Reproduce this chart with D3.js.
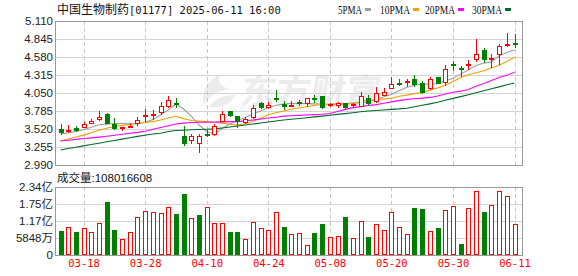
<!DOCTYPE html>
<html>
<head>
<meta charset="utf-8">
<script src="https://cdn.jsdelivr.net/npm/d3@7"></script>
<style>
body { margin: 0; background: #fff; }
svg { display: block; }
</style>
</head>
<body>
<svg id="kline" width="578" height="276"></svg>
<script>
var title = "中国生物制药[01177] 2025-06-11 16:00";
var lastVolume = 108016608;

var dates = ["03-13","03-14","03-17","03-18","03-19","03-20","03-21","03-24","03-25","03-26",
  "03-27","03-28","03-31","04-01","04-02","04-03","04-07","04-08","04-09","04-10",
  "04-11","04-14","04-15","04-16","04-17","04-22","04-23","04-24","04-25","04-28",
  "04-29","04-30","05-02","05-06","05-07","05-08","05-09","05-12","05-13","05-14",
  "05-15","05-16","05-19","05-20","05-21","05-22","05-23","05-26","05-27","05-28",
  "05-29","05-30","06-02","06-03","06-04","06-05","06-06","06-09","06-10","06-11"];

var open = [3.52,3.50,3.53,3.55,3.61,3.66,3.74,3.59,3.53,3.56,
  3.61,3.71,3.72,3.77,3.86,3.90,3.41,3.36,3.31,3.45,
  3.45,3.64,3.79,3.71,3.62,3.69,3.91,3.84,3.98,3.89,
  3.87,3.92,3.91,3.98,4.01,3.88,3.88,3.90,3.88,3.86,
  3.98,3.93,4.02,4.12,4.20,4.21,4.26,4.19,4.12,4.28,
  4.21,4.48,4.42,4.46,4.55,4.68,4.55,4.62,4.76,4.79];
var high = [3.59,3.58,3.57,3.63,3.67,3.78,3.75,3.68,3.55,3.60,
  3.70,3.81,3.80,3.92,4.01,3.98,3.56,3.45,3.44,3.51,
  3.59,3.78,3.79,3.71,3.69,3.87,3.92,3.92,4.09,3.93,
  3.93,3.95,3.97,4.02,4.01,3.91,3.92,3.90,3.91,4.06,
  4.02,4.14,4.12,4.29,4.26,4.26,4.32,4.22,4.29,4.29,
  4.46,4.52,4.45,4.54,4.85,4.71,4.62,4.77,4.94,4.92];
var low = [3.43,3.46,3.48,3.53,3.59,3.64,3.60,3.51,3.49,3.54,
  3.56,3.63,3.65,3.73,3.83,3.83,3.27,3.30,3.17,3.40,
  3.41,3.63,3.69,3.53,3.59,3.67,3.81,3.81,3.92,3.80,
  3.84,3.86,3.85,3.91,3.81,3.84,3.83,3.81,3.85,3.85,
  3.88,3.91,4.00,4.11,4.16,4.14,4.14,4.04,4.09,4.19,
  4.16,4.37,4.29,4.39,4.51,4.49,4.42,4.46,4.72,4.71];
var close = [3.47,3.51,3.50,3.60,3.64,3.70,3.61,3.54,3.55,3.57,
  3.65,3.73,3.74,3.86,3.95,3.89,3.32,3.42,3.41,3.44,
  3.57,3.74,3.72,3.64,3.67,3.83,3.84,3.88,3.96,3.86,
  3.88,3.91,3.97,3.96,3.85,3.89,3.90,3.85,3.89,4.01,
  3.91,4.05,4.06,4.18,4.19,4.22,4.18,4.07,4.25,4.20,
  4.41,4.47,4.41,4.47,4.62,4.55,4.56,4.74,4.77,4.78];

// volume in 万 shares
var volume = [8260,9630,7910,9170,7910,10890,18230,8600,5500,7800,
  12960,15020,14680,14330,16400,14100,20980,12730,13760,16400,
  10890,10890,7910,7910,5500,11240,9170,8490,14680,9630,
  7110,7450,3440,7570,10660,6190,6540,13070,5850,11580,
  6190,10550,8600,14700,9630,7110,16170,15930,8140,9290,
  15360,16740,3780,16050,21910,14790,17090,21910,20180,10801.66];

var ma5 = [3.446,3.463,3.483,3.508,3.545,3.582,3.592,3.600,3.602,3.598,
  3.594,3.623,3.658,3.726,3.800,3.888,3.814,3.711,3.579,3.483,
  3.446,3.527,3.594,3.644,3.689,3.741,3.785,3.838,3.869,3.887,
  3.898,3.896,3.893,3.890,3.887,3.884,3.890,3.896,3.901,3.907,
  3.919,3.954,3.991,4.029,4.082,4.135,4.165,4.181,4.183,4.186,
  4.227,4.267,4.328,4.390,4.455,4.489,4.508,4.595,4.645,4.683];
var ma10 = [3.343,3.373,3.402,3.430,3.466,3.501,3.532,3.558,3.573,3.588,
  3.604,3.616,3.628,3.653,3.682,3.707,3.673,3.644,3.636,3.629,
  3.620,3.607,3.592,3.580,3.598,3.629,3.679,3.729,3.760,3.785,
  3.812,3.829,3.847,3.865,3.881,3.884,3.884,3.884,3.900,3.921,
  3.943,3.951,3.962,3.974,4.003,4.019,4.041,4.056,4.090,4.125,
  4.160,4.219,4.277,4.320,4.349,4.377,4.417,4.458,4.514,4.576];
var ma20 = [3.343,3.355,3.367,3.379,3.389,3.401,3.414,3.429,3.442,3.457,
  3.470,3.488,3.516,3.542,3.567,3.594,3.606,3.616,3.619,3.620,
  3.623,3.625,3.628,3.629,3.639,3.653,3.667,3.681,3.694,3.709,
  3.716,3.720,3.726,3.731,3.737,3.748,3.779,3.809,3.835,3.850,
  3.865,3.879,3.898,3.919,3.938,3.956,3.965,3.975,3.985,4.007,
  4.034,4.060,4.077,4.102,4.150,4.190,4.234,4.277,4.312,4.355];
var ma30 = [3.211,3.232,3.252,3.271,3.292,3.311,3.332,3.351,3.371,3.391,
  3.411,3.429,3.446,3.458,3.483,3.498,3.502,3.508,3.513,3.517,
  3.522,3.535,3.550,3.564,3.579,3.594,3.608,3.623,3.638,3.653,
  3.664,3.675,3.686,3.698,3.710,3.723,3.735,3.747,3.760,3.773,
  3.785,3.792,3.800,3.809,3.816,3.826,3.847,3.869,3.890,3.915,
  3.943,3.971,3.997,4.025,4.055,4.082,4.112,4.140,4.171,4.197];

var maNames = ["5PMA", "10PMA", "20PMA", "30PMA"];
var maColors = ["#a0a0a0", "#f0a000", "#ff00ff", "#006a2c"];

var priceTicks = [2.990, 3.255, 3.520, 3.785, 4.050, 4.315, 4.580, 4.845, 5.110];
var volTicks = [0, 5848, 11696, 17544, 23392];
var volTickLabels = ["0", "5848万", "1.17亿", "1.75亿", "2.34亿"];
var dateTicks = ["03-18", "03-28", "04-10", "04-24", "05-08", "05-20", "05-30", "06-11"];

function kline(){
  var svg = d3.select("#kline");
  var red = "#ff0000", green = "#007f00";
  var left = 55, right = 522;
  var pTop = 21, pBot = 165, vTop = 187, vBot = 255;

  var x = d3.scalePoint().domain(dates).range([60.5, 514.5]);
  var y = d3.scaleLinear().domain([2.990, 5.110]).range([pBot, pTop]);
  var vy = d3.scaleLinear().domain([0, 23392]).range([vBot, vTop]);
  function px(d){ return Math.round(x(d)); }

  // watermark
  var wm = svg.append("g").attr("fill", "#ececec");
  wm.append("path")
    .attr("transform", "translate(201,74)")
    .attr("d", "M20,0 C6,6 0,18 3,31 C8,22 16,17 29,15 C20,13 15,8 20,0 Z M8,33 C14,24 24,21 34,21 C30,30 20,35 8,33 Z");
  wm.append("text")
    .attr("x", 240).attr("y", 104)
    .attr("transform", "skewX(-8) translate(14,0)")
    .attr("font-family", "Noto Sans CJK SC")
    .attr("font-weight", "bold")
    .attr("font-size", 35)
    .text("东方财富");

  // grid
  var grid = svg.append("g").attr("shape-rendering", "crispEdges");
  grid.selectAll(".hp").data(priceTicks).enter().append("line")
    .attr("x1", left).attr("x2", right)
    .attr("y1", function(d){ return Math.round(y(d)) + 0.5; })
    .attr("y2", function(d){ return Math.round(y(d)) + 0.5; })
    .attr("stroke", "#d4d4d4");
  grid.selectAll(".hv").data(volTicks).enter().append("line")
    .attr("x1", left).attr("x2", right)
    .attr("y1", function(d){ return Math.round(vy(d)) + 0.5; })
    .attr("y2", function(d){ return Math.round(vy(d)) + 0.5; })
    .attr("stroke", "#d4d4d4");
  [[pTop, pBot], [vTop, vBot]].forEach(function(r){
    grid.selectAll(null).data(dateTicks).enter().append("line")
      .attr("x1", function(d){ return px(d) + 0.5; })
      .attr("x2", function(d){ return px(d) + 0.5; })
      .attr("y1", r[0]).attr("y2", r[1])
      .attr("stroke", "#c8c8c8")
      .attr("stroke-dasharray", "4,3");
  });

  // frames
  svg.append("path")
    .attr("shape-rendering", "crispEdges")
    .attr("fill", "none").attr("stroke", "#999")
    .attr("d", "M" + (left + .5) + "," + (pTop + .5) + "H" + (right + .5) + "V" + (pBot + .5) + "H" + (left + .5) + "Z"
      + "M" + (left + .5) + "," + (vTop + .5) + "H" + (right + .5) + "V" + (vBot + .5) + "H" + (left + .5) + "Z");

  // moving averages
  var line = d3.line()
    .x(function(d, i){ return x(dates[i]); })
    .y(function(d){ return y(d); });
  svg.append("g").selectAll("path")
    .data([ma5, ma10, ma20, ma30])
    .enter().append("path")
      .attr("fill", "none")
      .attr("stroke", function(d, i){ return maColors[i]; })
      .attr("stroke-width", 1.1)
      .attr("d", line);

  // candles
  var candles = svg.append("g").attr("shape-rendering", "crispEdges")
    .selectAll("g").data(dates).enter().append("g");
  candles.each(function(d, i){
    var g = d3.select(this);
    var cx = px(d);
    var up = close[i] >= open[i];
    var col = up ? red : green;
    var t = Math.round(y(Math.max(open[i], close[i])));
    var b = Math.round(y(Math.min(open[i], close[i])));
    var hi = Math.round(y(high[i])), lo = Math.round(y(low[i]));
    if (b - t < 2) {
      g.append("line").attr("x1", cx + .5).attr("x2", cx + .5).attr("y1", hi).attr("y2", lo).attr("stroke", col);
      g.append("rect").attr("x", cx - 2).attr("y", t).attr("width", 5).attr("height", 2).attr("fill", col);
    } else if (up) {
      g.append("line").attr("x1", cx + .5).attr("x2", cx + .5).attr("y1", hi).attr("y2", t).attr("stroke", col);
      g.append("line").attr("x1", cx + .5).attr("x2", cx + .5).attr("y1", b).attr("y2", lo).attr("stroke", col);
      g.append("rect").attr("x", cx - 1.5).attr("y", t + .5).attr("width", 4).attr("height", b - t)
        .attr("fill", "#fff").attr("stroke", col);
    } else {
      g.append("line").attr("x1", cx + .5).attr("x2", cx + .5).attr("y1", hi).attr("y2", lo).attr("stroke", col);
      g.append("rect").attr("x", cx - 2).attr("y", t).attr("width", 5).attr("height", b - t + 1).attr("fill", col);
    }
  });

  // volume bars
  svg.append("g").attr("shape-rendering", "crispEdges")
    .selectAll("rect").data(volume).enter().append("rect")
      .each(function(v, i){
        var up = i === 0 ? close[i] >= open[i] : close[i] >= close[i - 1];
        var cx = px(dates[i]);
        var top = Math.round(vy(v));
        var r = d3.select(this);
        if (up) {
          r.attr("x", cx - 1.5).attr("y", top + .5).attr("width", 4).attr("height", vBot - top - 1)
            .attr("fill", "#fff").attr("stroke", red);
        } else {
          r.attr("x", cx - 2).attr("y", top).attr("width", 5).attr("height", vBot - top).attr("fill", green);
        }
      });

  // axes
  var axisFont = "'Liberation Sans', 'Noto Sans CJK SC', sans-serif";
  var ya = svg.append("g")
    .attr("transform", "translate(53,0)")
    .call(d3.axisLeft(y).tickValues(priceTicks).tickFormat(d3.format(".3f")).tickSize(0).tickPadding(0));
  var va = svg.append("g")
    .attr("transform", "translate(53,0)")
    .call(d3.axisLeft(vy).tickValues(volTicks).tickFormat(function(d, i){ return volTickLabels[i]; }).tickSize(0).tickPadding(0));
  [ya, va].forEach(function(a){
    a.select(".domain").remove();
    a.selectAll("text").attr("font-family", axisFont).attr("font-size", 11.5).attr("fill", "#222");
  });

  var xa = svg.append("g")
    .attr("transform", "translate(0,258)")
    .call(d3.axisBottom(x).tickValues(dateTicks).tickSize(0).tickPadding(2));
  xa.select(".domain").remove();
  xa.selectAll("text")
    .attr("font-family", "'DejaVu Sans Mono', monospace")
    .attr("font-size", 10.5)
    .attr("fill", red);

  // title
  var tt = svg.append("text").attr("x", 57).attr("y", 14).attr("fill", "#111");
  tt.append("tspan").attr("font-family", "'Noto Sans CJK SC'").attr("font-size", 12).text(title.split("[")[0]);
  tt.append("tspan").attr("font-family", "'DejaVu Sans Mono', monospace").attr("font-size", 10.5)
    .text("[" + title.split("[")[1]);

  // legend
  var legX = [338, 380, 425, 472];
  var leg = svg.append("g").selectAll("g").data(maNames).enter().append("g")
    .attr("transform", function(d, i){ return "translate(" + legX[i] + ",0)"; });
  leg.append("text")
    .attr("y", 13.5)
    .attr("font-family", "'Liberation Serif', serif")
    .attr("font-size", 12.5)
    .attr("textLength", function(d){ return d.length * 6; })
    .attr("lengthAdjust", "spacingAndGlyphs")
    .attr("fill", "#111")
    .text(function(d){ return d; });
  leg.append("rect")
    .attr("x", function(d){ return d.length * 6 + 3; })
    .attr("y", 8).attr("width", 6).attr("height", 3)
    .attr("fill", function(d, i){ return maColors[i]; });

  // volume caption
  var vc = svg.append("text").attr("x", 57).attr("y", 182).attr("fill", "#111");
  vc.append("tspan").attr("font-family", "'Noto Sans CJK SC'").attr("font-size", 11.5).text("成交量");
  vc.append("tspan").attr("font-family", axisFont).attr("font-size", 11.5).text(":" + lastVolume);
}

kline();
</script>
</body>
</html>
